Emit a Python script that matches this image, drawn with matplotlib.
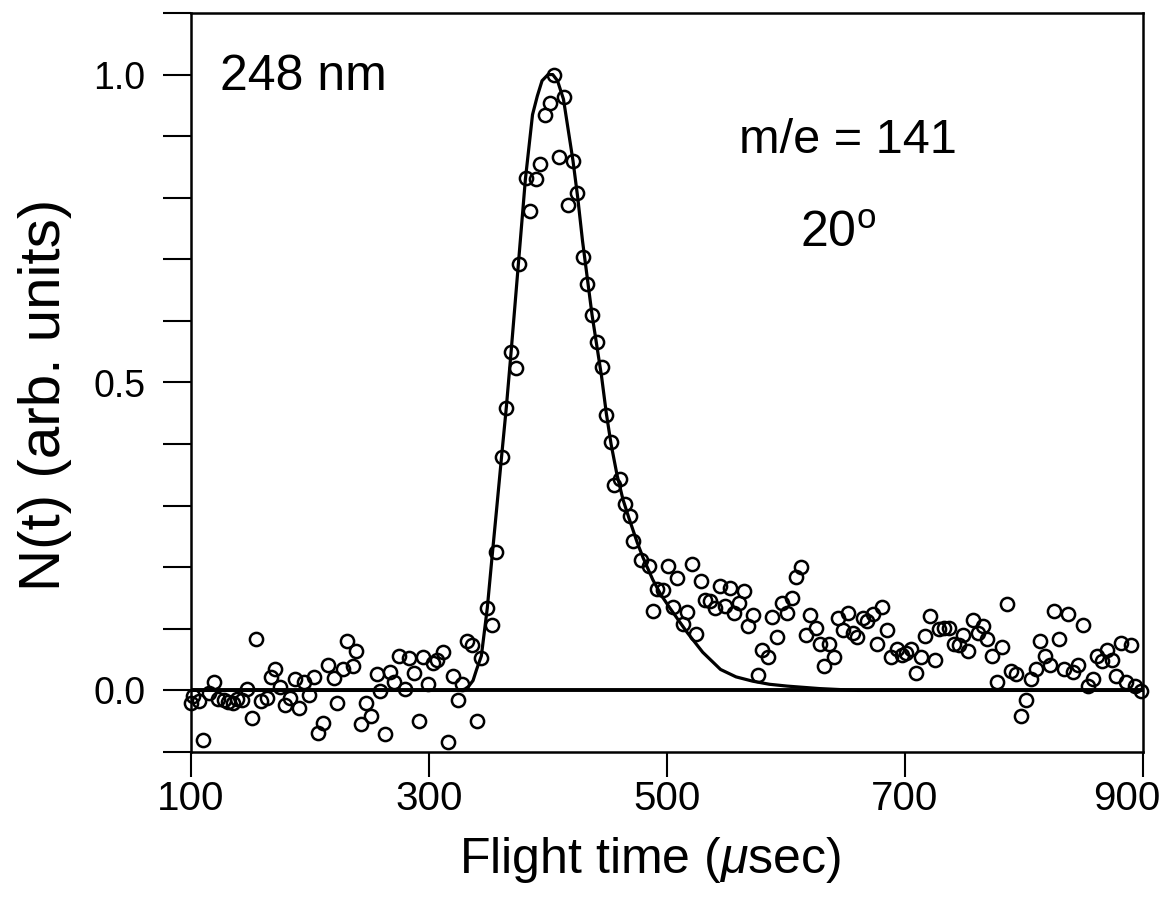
import numpy as np
import matplotlib.pyplot as plt
import matplotlib.transforms as mtransforms
from matplotlib.ticker import FixedLocator

plt.rcParams['font.family'] = ['Liberation Sans', 'DejaVu Sans']
plt.rcParams['mathtext.fontset'] = 'custom'
plt.rcParams['mathtext.rm'] = 'Liberation Sans'
plt.rcParams['mathtext.it'] = 'Liberation Sans:italic'

### datos medidos (tiempo de vuelo [usec], N(t))
t_data = [100, 102, 107, 110, 115, 119, 123, 128, 131, 135, 139, 143, 147, 151, 155, 159,
          164, 167, 171, 175, 179, 183, 187, 191, 195, 199, 203, 207, 211, 215, 220, 223,
          228, 231, 236, 239, 243, 247, 251, 256, 259, 263, 267, 271, 275, 280, 283,
          287, 292, 295, 299, 303, 307, 312, 316, 320, 324, 328, 332, 336, 340, 344, 349, 353,
          356, 361, 365, 369, 373, 376, 381.5, 385, 389.6, 393, 397.5, 401.7, 405, 409.5,
          413.4, 417, 420.7, 424.6, 429.2, 432.5, 436.7, 440.9, 445, 448.7, 452.7, 455.5,
          460.5, 464.7, 468.9, 471.7, 478,
          485, 488.5, 492, 496.4, 500.6, 504.8, 508.7, 513.2, 516.5, 520.7, 524.4, 528.6,
          532, 536, 540.3, 544.5, 548.7, 553, 556.3, 560.8, 564.7, 568.3, 572.5, 576.7, 580,
          585, 588.5, 592.7, 596.4, 600.6, 604.8, 608.4, 612.6, 616.5, 620.2, 624.9, 628.6,
          632.2, 636.4, 640.3, 643.8, 648, 652.1, 656.5,
          660, 664.4, 668.3, 672.8, 676.7, 681, 684.6, 688.2, 693, 697.2, 700.8, 704.8, 709,
          713.2, 716.8, 721, 725.2, 728.8, 732.8, 737, 741.2, 745.4, 749, 753.2, 757.4, 761.1,
          765.3, 769.2, 773.4, 777.6, 781.8, 785.5, 789.1, 793.3, 797.5, 801.4, 805.6, 809.8,
          813.4, 817.6, 821.8, 825.5, 829.7, 833.6, 837.2, 841.4, 845.6, 849.8, 854, 857.7,
          861.6, 865.8, 869.5, 873.7, 877.3, 881.3, 885.7, 889.7, 893.3, 898]
n_data = [-0.021, -0.009, -0.017, -0.081, -0.004, 0.013, -0.014, -0.016, -0.019, -0.020, -0.014,
          -0.016, 0.003, -0.044, 0.084, -0.017, -0.012, 0.021, 0.034, 0.006, -0.023, -0.012,
          0.018, -0.029, 0.014, -0.008, 0.021, -0.069, -0.053, 0.041, 0.020, -0.021, 0.034,
          0.080, 0.040, 0.064, -0.054, -0.020, -0.041, 0.027, -0.001, -0.070, 0.030, 0.013,
          0.056, 0.003, 0.052,
          0.029, -0.050, 0.055, 0.010, 0.044, 0.050, 0.063, -0.084, 0.023, -0.016, 0.010,
          0.081, 0.074, -0.049, 0.052, 0.134, 0.107,
          0.224, 0.379, 0.459, 0.549, 0.524, 0.692, 0.832, 0.779, 0.831, 0.854, 0.935, 0.954,
          1.000, 0.866, 0.964, 0.788, 0.860, 0.808, 0.703, 0.660, 0.610, 0.565, 0.525, 0.447,
          0.404, 0.333, 0.344, 0.303, 0.283, 0.243, 0.212,
          0.202, 0.129, 0.164, 0.163, 0.202, 0.136, 0.182, 0.108, 0.127, 0.205, 0.091, 0.177,
          0.147, 0.145, 0.134, 0.170, 0.137, 0.167, 0.125, 0.142, 0.162, 0.104, 0.122, 0.025,
          0.065, 0.055, 0.119, 0.086, 0.142, 0.125, 0.150, 0.184, 0.200, 0.090, 0.122, 0.101,
          0.075, 0.039, 0.075, 0.055, 0.118, 0.098, 0.126, 0.093,
          0.087, 0.118, 0.113, 0.124, 0.075, 0.135, 0.098, 0.055, 0.067, 0.057, 0.061, 0.067,
          0.029, 0.055, 0.088, 0.121, 0.050, 0.100, 0.102, 0.102, 0.075, 0.073, 0.090, 0.064,
          0.114, 0.094, 0.104, 0.084, 0.056, 0.014, 0.071, 0.140, 0.031, 0.026, -0.042, -0.016,
          0.018, 0.034, 0.080, 0.056, 0.042, 0.129, 0.084, 0.034, 0.124, 0.030, 0.042, 0.106,
          0.007, 0.019, 0.056, 0.048, 0.065, 0.049, 0.024, 0.077, 0.014, 0.073, 0.007, -0.001]

### curva de ajuste
fit_t = [100, 325, 330, 333, 337, 340, 344, 349, 353, 357, 361, 365, 369, 375, 381, 387, 391,
         395, 400, 404, 408, 413, 417, 421, 425, 429, 433, 437, 441, 445, 449, 453, 458, 463,
         468, 475, 480, 488, 495, 502, 510, 517, 530, 545, 558, 572, 586, 601, 628, 660, 900]
fit_n = [0.0, 0.0, 0.002, 0.006, 0.016, 0.034, 0.056, 0.134, 0.217, 0.298, 0.38, 0.46, 0.55,
         0.69, 0.83, 0.935, 0.965, 0.99, 1.0, 1.0, 0.99, 0.96, 0.91, 0.86, 0.80, 0.73, 0.67,
         0.61, 0.56, 0.51, 0.45, 0.40, 0.35, 0.31, 0.28, 0.24, 0.215, 0.18, 0.155, 0.135, 0.113,
         0.094, 0.062, 0.034, 0.022, 0.015, 0.010, 0.007, 0.003, 0.0, 0.0]

x_ticks = [100, 300, 500, 700, 900]
y_ticks = [0.0, 0.5, 1.0]
y_minor = [-0.1, 0.1, 0.2, 0.3, 0.4, 0.6, 0.7, 0.8, 0.9, 1.1]

fig = plt.figure(figsize=(11.71, 9.05), dpi=100)
ax = fig.add_axes([191/1171, 1 - 752/905, 952/1171, 739/905])

ax.axhline(0, color='k', lw=2.8, zorder=1)
ax.plot(fit_t, fit_n, 'k-', lw=2.3, zorder=2)
ax.plot(t_data, n_data, 'o', mfc='none', mec='k', ms=9.5, mew=1.8, clip_on=False, zorder=3)

ax.set_xlim(100, 900)
ax.set_ylim(-0.1, 1.1)
ax.set_xticks(x_ticks)
ax.set_xticklabels([str(v) for v in x_ticks])
ax.set_yticks(y_ticks)
ax.set_yticklabels(['%.1f' % v for v in y_ticks])
ax.yaxis.set_minor_locator(FixedLocator(y_minor))

ax.tick_params(axis='x', direction='out', length=18, width=1.5, pad=2, labelsize=29)
ax.tick_params(axis='y', which='both', direction='out', length=20, width=1.5, pad=13, labelsize=27)
for s in ax.spines.values():
    s.set_linewidth(1.8)

# la etiqueta 900 queda un poco a la izquierda del borde
lab = ax.get_xticklabels()[-1]
lab.set_transform(lab.get_transform() + mtransforms.ScaledTranslation(-0.16, 0, fig.dpi_scale_trans))

ax.text(124, 0.975, '248 nm', fontsize=36, va='baseline')
ax.text(652, 0.873, 'm/e = 141', fontsize=35, ha='center', va='baseline')
ax.text(644, 0.721, r'20$^{\mathrm{o}}$', fontsize=36, ha='center', va='baseline')

ax.set_xlabel(r'Flight time ($\mu$sec)', fontsize=36)
ax.xaxis.set_label_coords(0.482, -0.112)
ax.set_ylabel('N(t) (arb. units)', fontsize=42)
ax.yaxis.set_label_coords(-0.125, 0.483)

fig.savefig('out.png', dpi=100)
